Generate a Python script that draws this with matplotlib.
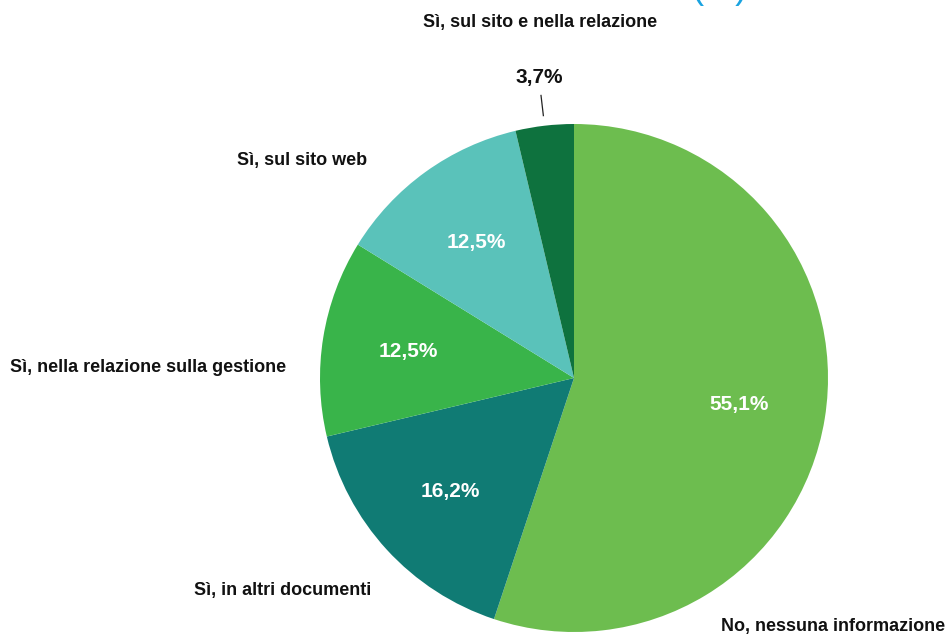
import matplotlib.pyplot as plt
import numpy as np

plt.rcParams["font.family"] = ["Liberation Sans", "DejaVu Sans"]

# data, clockwise from 12 o'clock
categories = [
    "No, nessuna informazione",
    "Sì, in altri documenti",
    "Sì, nella relazione sulla gestione",
    "Sì, sul sito web",
    "Sì, sul sito e nella relazione",
]
values = [55.1, 16.2, 12.5, 12.5, 3.7]
colors = ["#6DBD4F", "#107B74", "#39B44A", "#5AC2BA", "#0E723E"]
pct_labels = ["55,1%", "16,2%", "12,5%", "12,5%", "3,7%"]

# figure in pixel coordinates
W, H = 950, 635
CX, CY, R = 574, H - 378, 254

fig = plt.figure(figsize=(9.5, 6.35), dpi=100)
ax = fig.add_axes([0, 0, 1, 1])

wedges, _ = ax.pie(values, colors=colors, startangle=90, counterclock=False,
                   center=(CX, CY), radius=R, frame=True,
                   wedgeprops=dict(linewidth=0))

ax.set_xlim(0, W)
ax.set_ylim(0, H)
ax.set_aspect("equal")
ax.axis("off")

# percentage labels
for w, txt in zip(wedges, pct_labels):
    mid = np.deg2rad((w.theta1 + w.theta2) / 2)
    if txt == "3,7%":
        d = 1.19
        color = "#111111"
        # leader line
        ax.plot([CX + 1.04 * R * np.cos(mid), CX + 1.12 * R * np.cos(mid)],
                [CY + 1.04 * R * np.sin(mid), CY + 1.12 * R * np.sin(mid)],
                color="#222222", lw=0.9)
    else:
        d = 0.66
        color = "white"
    ax.text(CX + d * R * np.cos(mid), CY + d * R * np.sin(mid), txt,
            ha="center", va="center", fontsize=15, fontweight="bold", color=color)

# category labels
label_pos = [(833, H - 626), (283, H - 590), (148, H - 367), (302, H - 160), (540, H - 22)]
for txt, (x, y) in zip(categories, label_pos):
    ax.text(x, y, txt, ha="center", va="center", fontsize=13,
            fontweight="bold", color="#111111")

# clipped title fragment at the top
fig.text(720 / W, 1 + 2 / H, "(%)", ha="center", va="baseline",
         fontsize=26, color="#1AA3E0")

fig.savefig("out.png", dpi=100)
